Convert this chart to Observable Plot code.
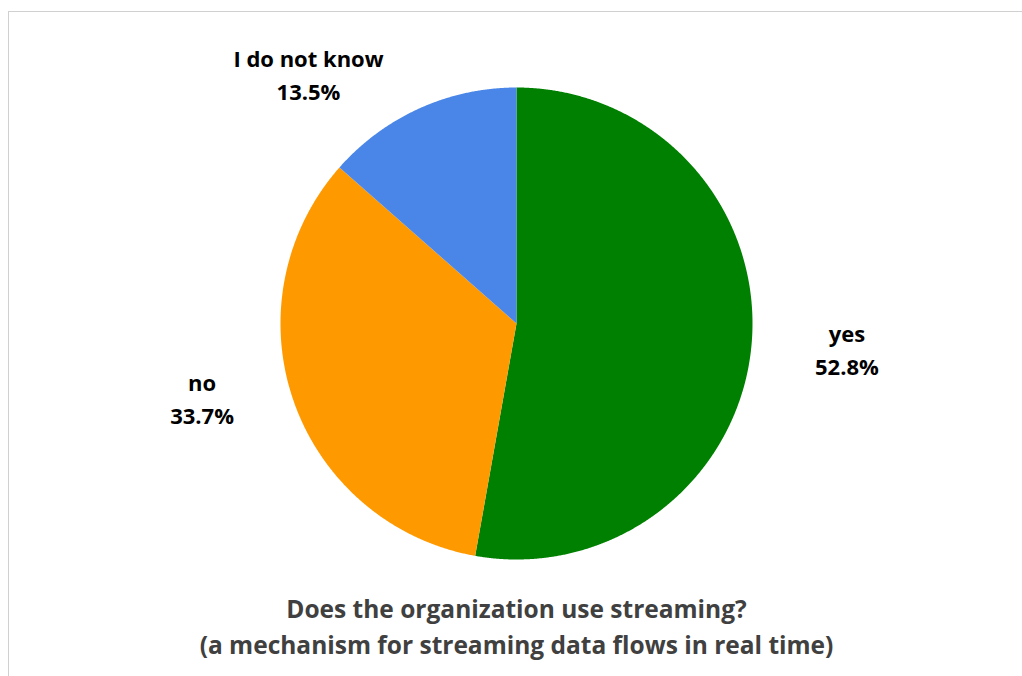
<!DOCTYPE html>
<html>
<head>
<meta charset="utf-8">
<script src="https://cdn.jsdelivr.net/npm/d3@7"></script>
<script src="https://cdn.jsdelivr.net/npm/@observablehq/plot@0.6"></script>
<style>
  html, body { margin: 0; padding: 0; background: #fff; overflow: hidden; }
  #wrap { position: relative; width: 1022px; height: 676px; }
  #border { position: absolute; left: 8px; top: 11px; width: 1030px; height: 680px;
            border-top: 1.5px solid #d0d0d0; border-left: 1.5px solid #d0d0d0; pointer-events: none; }
  #chart { position: absolute; left: 0; top: 0; }
</style>
</head>
<body>
<div id="wrap"><div id="chart"></div><div id="border"></div></div>
<script>
// ---- data ----
const categories = ["yes", "no", "I do not know"];
const shares = [52.8, 33.7, 13.5];
const colors = ["#008000", "#FF9900", "#4A86E8"];
const titleLines = ["Does the organization use streaming?", "(a mechanism for streaming data flows in real time)"];

// ---- layout ----
const W = 1022, H = 676;
const cx = 516, cy = 323, R = 236;
const labelNudge = [[6, -4], [-7, -34], [-74, 46]]; // label placement tweaks (px)

const arcs = d3.pie().sort(null).value(d => d)(shares);
const pts = (a, r) => [cx + r * Math.sin(a), cy - r * Math.cos(a)];

const slicePoints = [];
arcs.forEach((arc, i) => {
  const key = categories[i];
  slicePoints.push({key, fill: colors[i], x: cx, y: cy});
  const n = Math.max(2, Math.ceil((arc.endAngle - arc.startAngle) / (Math.PI / 720)));
  for (let k = 0; k <= n; k++) {
    const a = arc.startAngle + (arc.endAngle - arc.startAngle) * k / n;
    const [x, y] = pts(a, R);
    slicePoints.push({key, fill: colors[i], x, y});
  }
  slicePoints.push({key, fill: colors[i], x: cx, y: cy});
});

const labels = arcs.map((arc, i) => {
  const mid = (arc.startAngle + arc.endAngle) / 2;
  const [x, y] = pts(mid, R * 1.38);
  return {x: x + labelNudge[i][0], y: y + labelNudge[i][1],
          text: categories[i] + "\n" + shares[i].toFixed(1) + "%"};
});

const titles = titleLines.map((t, i) => ({x: cx, y: 610 + i * 36, text: t}));

const chart = Plot.plot({
  width: W, height: H,
  margin: 0,
  x: {domain: [0, W], range: [0, W], axis: null},
  y: {domain: [0, H], range: [0, H], axis: null},
  style: {background: "transparent"},
  marks: [
    Plot.line(slicePoints, {x: "x", y: "y", z: "key", fill: "fill", stroke: "none", curve: "linear"}),
    Plot.text(labels, {x: "x", y: "y", text: "text", fill: "#000", fontSize: 22, fontWeight: 700,
      fontFamily: "'Open Sans', sans-serif", lineHeight: 1.5, textAnchor: "middle"}),
    Plot.text(titles, {x: "x", y: "y", text: "text", fill: "#404040", fontSize: 24.5, fontWeight: 700,
      fontFamily: "'Open Sans', sans-serif", textAnchor: "middle"})
  ]
});
document.getElementById("chart").appendChild(chart);
</script>
</body>
</html>
